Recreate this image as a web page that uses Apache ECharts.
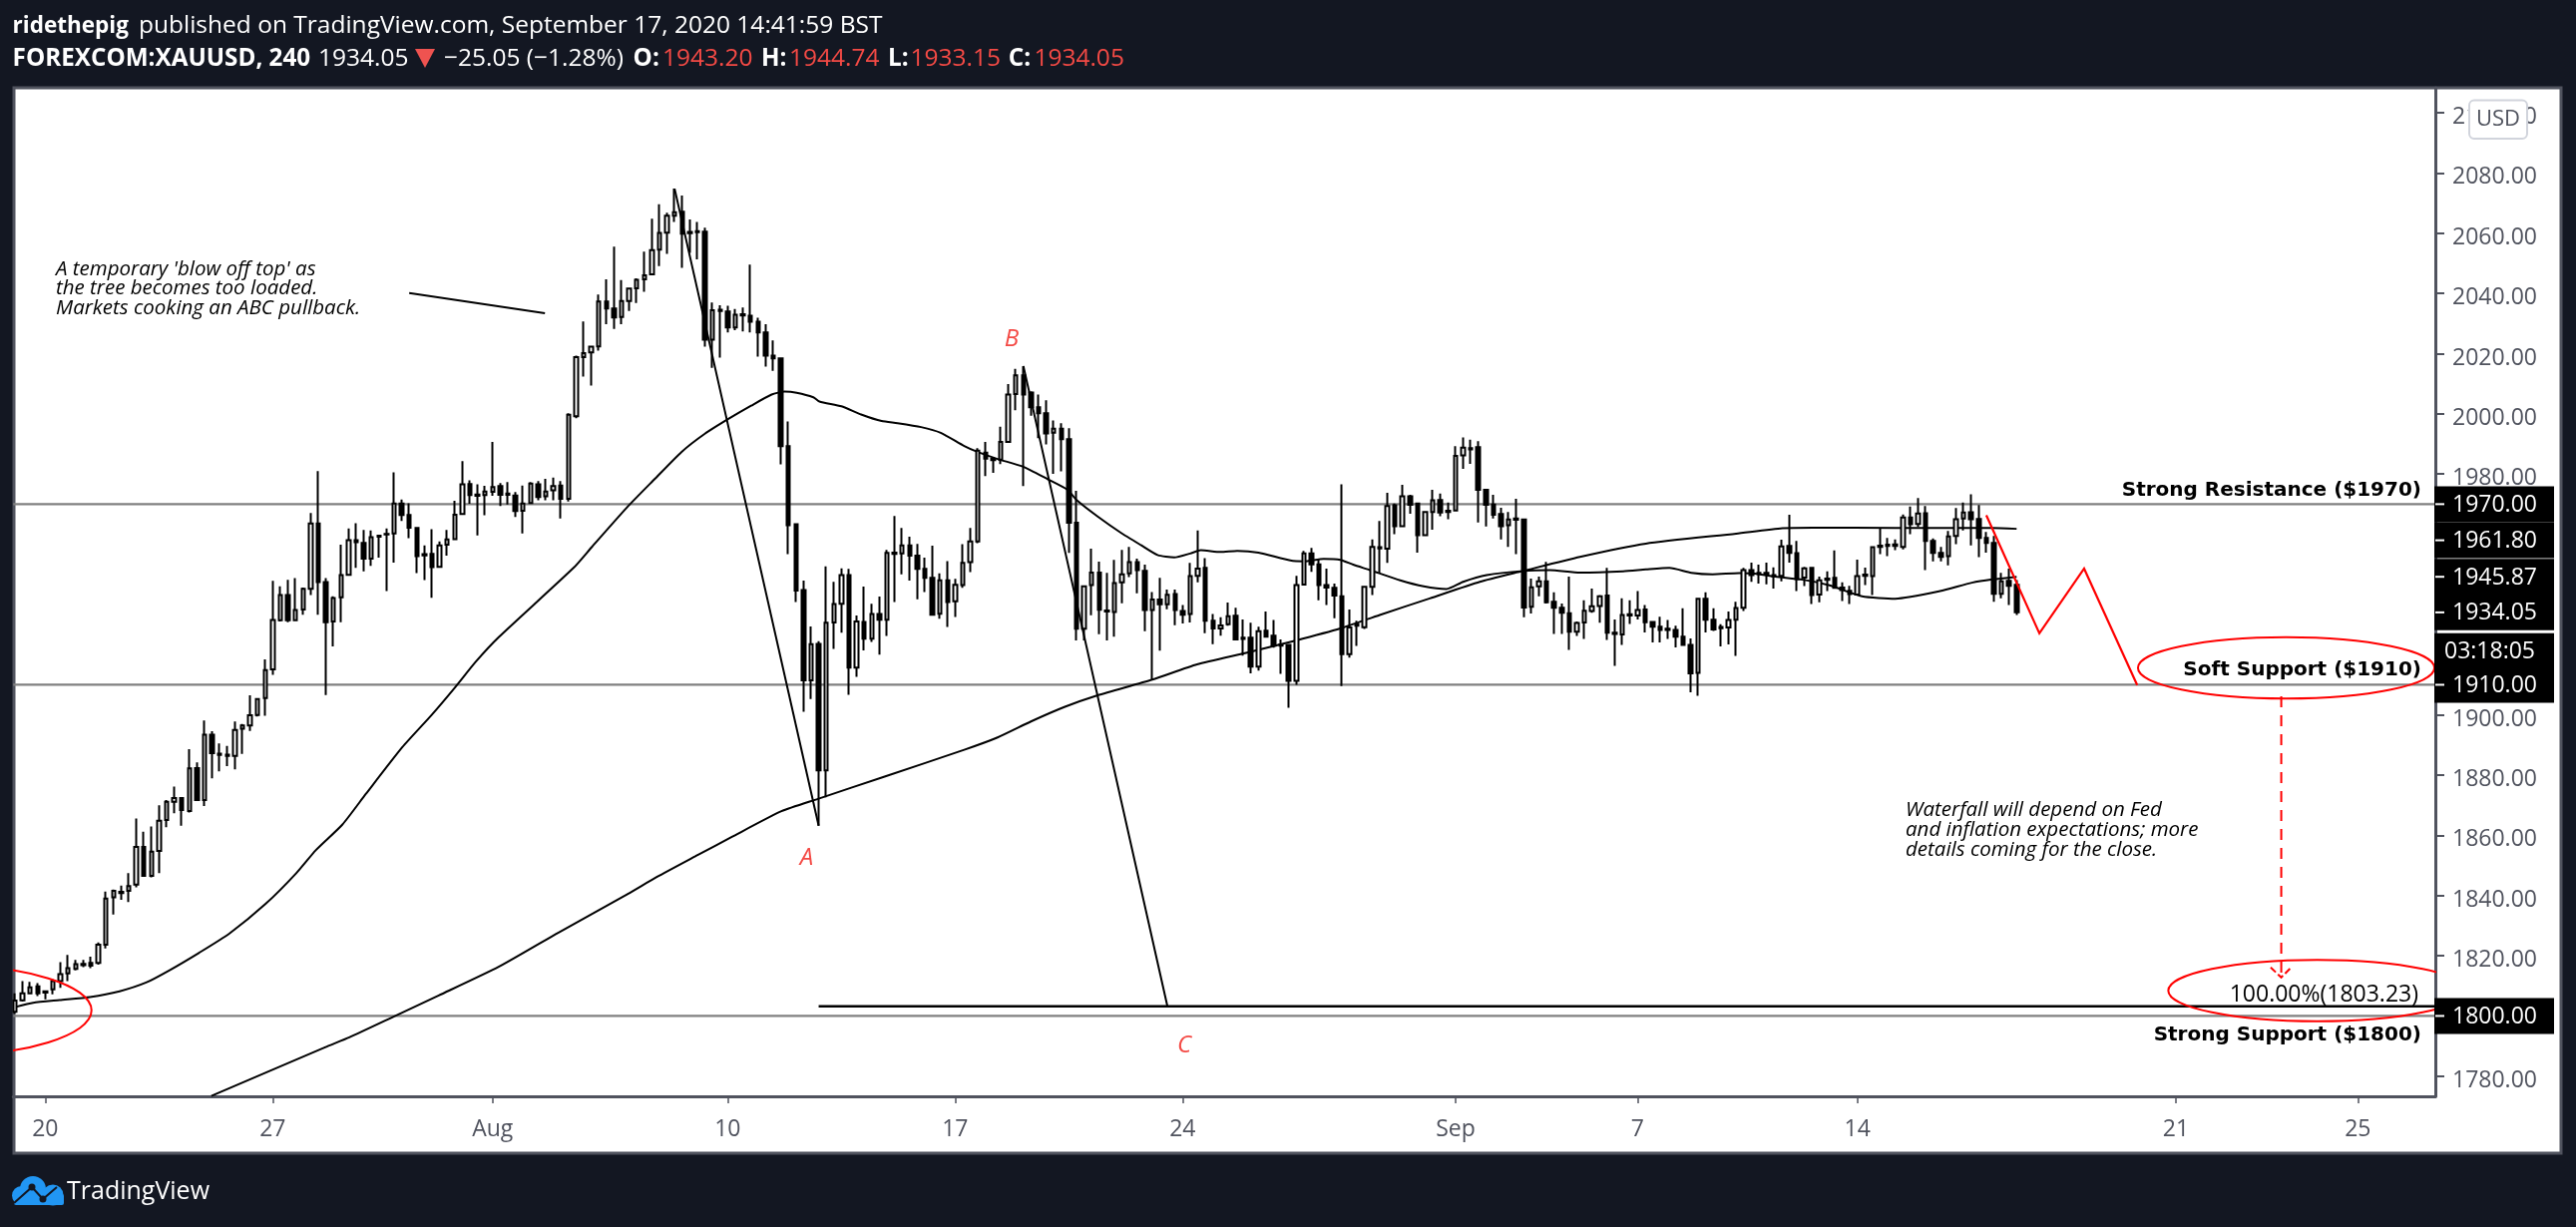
<!DOCTYPE html>
<html><head><meta charset="utf-8">
<style>html,body{margin:0;padding:0;background:#131722}#c{width:2582px;height:1230px}</style>
<script src="https://cdn.jsdelivr.net/npm/echarts@6/dist/echarts.min.js"></script>
</head><body><div id="c"></div>
<script>
const opens=[1801.4,1805.2,1807.5,1809.8,1808.2,1808.8,1811.6,1814.1,1815.6,1816.9,
1817.6,1817.6,1823.7,1839.4,1840.8,1841.6,1843.6,1856.1,1846.5,1854.8,
1865.1,1871.1,1872.4,1868.1,1882.3,1871.7,1893.4,1887.1,1886.8,1886.4,
1895.4,1896.5,1900.0,1905.6,1915.1,1931.4,1939.8,1931.4,1935.0,1941.9,
1963.6,1944.1,1931.0,1939.1,1946.5,1958.0,1957.1,1951.9,1959.5,1959.9,
1960.3,1970.2,1966.4,1962.1,1953.4,1953.5,1949.2,1956.5,1958.4,1966.7,
1976.7,1973.2,1973.0,1974.1,1976.0,1973.5,1972.9,1967.8,1970.4,1976.6,
1972.6,1974.6,1976.2,1971.8,1999.2,2018.8,2020.4,2022.4,2037.3,2035.0,
2032.2,2037.5,2041.7,2044.7,2046.3,2054.5,2060.2,2065.8,2067.1,2060.4,
2060.7,2060.5,2024.6,2034.6,2034.0,2028.7,2033.1,2032.6,2030.6,2027.0,
2019.3,2018.4,1989.3,1963.3,1941.5,1911.5,1923.6,1881.6,1930.7,1936.9,
1946.4,1915.7,1930.9,1925.3,1933.5,1931.6,1953.9,1953.6,1956.3,1952.9,
1948.5,1945.5,1933.6,1944.7,1937.7,1943.1,1950.7,1957.6,1987.1,1985.0,
1984.8,1990.7,2006.6,2012.8,2007.1,2002.2,2000.2,1993.7,1995.1,1991.6,
1963.8,1928.6,1943.1,1947.3,1934.7,1934.2,1944.0,1947.0,1950.7,1947.8,
1934.8,1938.3,1936.7,1940.1,1934.5,1933.5,1946.2,1948.8,1931.3,1928.7,
1930.1,1932.9,1925.6,1925.6,1916.0,1928.0,1926.3,1923.4,1923.2,1911.3,
1943.3,1953.6,1950.0,1943.1,1942.2,1939.4,1920.2,1930.0,1929.1,1942.5,
1955.7,1955.2,1969.6,1962.7,1972.6,1970.2,1959.7,1967.4,1971.4,1967.8,
1967.9,1986.2,1988.6,1988.9,1974.8,1969.9,1966.7,1963.0,1965.2,1964.9,
1935.9,1942.7,1944.4,1937.6,1935.6,1933.8,1927.6,1930.7,1934.5,1936.2,
1939.6,1927.3,1926.7,1933.4,1933.0,1935.0,1930.9,1929.3,1928.6,1928.2,
1926.0,1923.2,1914.0,1938.6,1931.6,1929.2,1929.0,1931.6,1935.6,1948.1,
1947.2,1947.2,1946.4,1946.2,1956.1,1953.7,1945.6,1948.8,1940.0,1945.3,
1945.5,1942.3,1941.2,1940.0,1946.6,1946.1,1956.2,1956.5,1956.6,1955.8,
1965.6,1963.4,1967.0,1957.8,1953.8,1952.7,1959.4,1965.2,1967.3,1965.1,
1958.8,1957.1,1940.2,1944.5,1943.20];
const closes=[1805.1,1807.5,1809.5,1807.5,1807.8,1811.6,1813.9,1815.9,1817.2,1817.3,
1816.7,1823.7,1839.0,1841.6,1841.2,1843.1,1856.1,1846.5,1854.6,1864.8,
1871.1,1872.4,1868.4,1882.2,1871.7,1893.4,1887.3,1886.7,1886.4,1895.0,
1896.5,1899.9,1905.3,1914.9,1931.5,1939.8,1931.4,1934.8,1941.9,1963.6,
1944.1,1930.8,1938.8,1946.4,1958.0,1957.4,1951.9,1959.0,1959.2,1960.1,
1970.2,1966.4,1962.2,1952.7,1953.0,1949.1,1956.3,1958.3,1966.5,1976.6,
1973.0,1972.8,1974.2,1975.7,1973.1,1973.1,1967.7,1970.2,1976.8,1972.4,
1974.2,1976.0,1971.8,1999.7,2018.8,2020.2,2022.3,2037.3,2035.0,2032.0,
2037.5,2041.6,2044.5,2046.0,2054.4,2060.1,2065.8,2067.0,2059.8,2060.0,
2060.3,2024.6,2034.4,2034.2,2028.7,2032.9,2032.7,2030.6,2027.0,2019.3,
2018.4,1989.3,1963.0,1941.3,1911.5,1923.5,1881.6,1930.6,1936.8,1946.4,
1915.7,1931.0,1925.3,1933.5,1931.6,1953.8,1953.5,1956.3,1952.9,1948.5,
1945.5,1933.3,1944.7,1937.5,1943.2,1950.5,1957.6,1987.8,1985.1,1984.6,
1990.7,2006.4,2012.8,2006.4,2002.2,2000.2,1993.5,1995.1,1991.6,1963.8,
1928.6,1942.7,1947.3,1934.9,1934.3,1943.8,1946.7,1950.7,1948.1,1934.8,
1938.3,1936.7,1939.9,1934.8,1933.3,1946.1,1948.6,1931.3,1928.7,1929.7,
1932.8,1925.1,1925.2,1916.0,1927.8,1926.0,1923.0,1923.0,1911.3,1943.1,
1953.6,1950.0,1943.1,1942.3,1939.6,1920.2,1929.0,1929.6,1942.5,1955.8,
1955.3,1969.4,1962.7,1972.6,1969.8,1959.7,1967.4,1971.3,1967.2,1967.4,
1986.0,1988.8,1988.2,1974.8,1969.8,1966.5,1962.7,1964.9,1964.8,1935.7,
1942.4,1944.4,1937.4,1935.6,1933.9,1927.6,1930.5,1934.6,1936.1,1939.4,
1927.3,1926.9,1933.2,1933.0,1934.8,1930.8,1929.3,1928.2,1928.2,1926.0,
1923.2,1913.8,1938.6,1931.6,1928.4,1928.8,1931.5,1935.5,1948.1,1946.4,
1946.8,1946.8,1946.0,1956.0,1953.8,1945.1,1948.7,1939.8,1944.7,1944.9,
1942.2,1941.5,1940.1,1946.1,1946.2,1955.7,1955.8,1956.1,1956.1,1965.6,
1963.3,1966.9,1957.8,1953.8,1952.5,1959.3,1965.0,1967.2,1965.0,1958.8,
1957.1,1940.2,1944.4,1942.9,1934.05];
const lows=[1800.7,1804.8,1807.2,1806.6,1805.5,1807.2,1809.3,1811.6,1815.1,1816.2,
1815.9,1817.0,1822.4,1833.7,1838.6,1837.8,1842.7,1846.5,1846.0,1847.4,
1862.7,1867.3,1863.2,1867.6,1871.7,1869.7,1878.9,1881.2,1883.0,1881.9,
1887.0,1894.7,1899.5,1899.7,1913.3,1931.0,1930.8,1931.1,1933.3,1939.8,
1933.3,1906.6,1922.7,1930.8,1946.5,1948.8,1947.7,1949.5,1952.2,1941.1,
1950.6,1964.4,1958.7,1947.1,1944.8,1938.9,1949.1,1952.9,1958.0,1966.4,
1970.1,1959.6,1966.3,1972.8,1969.4,1969.9,1965.7,1960.3,1970.2,1971.3,
1971.3,1971.3,1965.2,1970.9,1998.5,2012.4,2009.4,2021.0,2029.8,2028.2,
2029.8,2034.2,2036.8,2040.5,2046.3,2049.1,2053.1,2063.7,2048.5,2053.5,
2051.3,2022.3,2015.3,2018.7,2027.0,2027.8,2027.4,2027.0,2019.0,2015.7,
2014.3,1983.2,1953.4,1937.5,1901.0,1905.3,1863.2,1872.6,1921.9,1927.3,
1906.7,1912.6,1921.4,1924.2,1920.0,1926.2,1937.5,1946.7,1944.6,1938.4,
1940.8,1933.1,1931.9,1929.2,1932.5,1942.2,1947.4,1957.0,1979.3,1980.4,
1983.3,1990.4,2001.2,1976.0,1999.4,1991.9,1989.8,1980.1,1980.9,1953.8,
1924.7,1924.7,1933.1,1926.8,1924.7,1926.0,1937.1,1945.8,1940.4,1927.8,
1911.5,1921.3,1935.1,1929.8,1930.4,1930.7,1944.0,1927.1,1923.5,1926.3,
1929.6,1924.7,1919.7,1913.8,1914.7,1925.8,1922.3,1913.6,1902.4,1910.0,
1943.3,1947.5,1938.1,1936.5,1932.1,1909.6,1919.0,1922.9,1928.5,1939.8,
1947.3,1950.5,1960.0,1962.7,1966.8,1953.9,1959.4,1961.5,1966.0,1965.0,
1967.6,1981.7,1983.4,1963.9,1962.6,1965.2,1958.3,1955.8,1953.4,1932.4,
1933.7,1939.4,1937.0,1926.9,1926.9,1921.6,1926.2,1925.2,1933.9,1930.6,
1924.9,1916.3,1923.2,1930.2,1931.7,1927.4,1924.1,1924.1,1925.2,1922.4,
1922.9,1907.5,1906.3,1927.4,1927.9,1922.7,1923.4,1919.6,1934.5,1944.2,
1943.6,1943.4,1942.0,1944.4,1950.6,1941.1,1942.8,1936.8,1937.4,1941.1,
1942.0,1937.8,1936.8,1939.8,1943.1,1939.8,1953.4,1952.7,1954.7,1955.0,
1960.0,1962.4,1948.1,1951.0,1951.0,1949.7,1956.7,1961.3,1956.3,1952.4,
1953.9,1937.6,1938.7,1936.5,1933.15];
const highs=[1807.5,1811.6,1811.3,1810.9,1808.2,1812.2,1817.9,1820.3,1818.6,1818.6,
1819.7,1824.4,1841.3,1842.0,1843.3,1847.4,1865.6,1861.2,1862.9,1870.0,
1871.7,1876.2,1872.7,1888.6,1884.2,1898.1,1894.6,1890.5,1889.7,1897.8,
1897.0,1906.5,1905.3,1918.4,1944.5,1942.7,1944.9,1945.4,1942.3,1967.1,
1981.0,1945.4,1939.4,1956.5,1961.9,1963.7,1961.4,1961.3,1959.6,1961.9,
1980.6,1971.5,1970.3,1962.1,1956.3,1961.7,1957.6,1961.4,1971.1,1984.3,
1977.9,1976.6,1976.1,1990.7,1977.0,1977.3,1974.0,1976.2,1977.3,1977.7,
1978.4,1978.8,1977.7,2000.2,2019.3,2030.7,2022.3,2039.6,2044.7,2055.5,
2044.4,2041.9,2045.0,2053.9,2064.8,2069.6,2066.8,2074.8,2072.5,2064.6,
2063.7,2061.8,2037.0,2036.1,2035.9,2034.8,2035.3,2049.6,2031.9,2029.8,
2024.4,2018.4,1997.5,1963.5,1944.6,1929.4,1924.5,1949.3,1944.2,1948.7,
1948.5,1933.0,1942.6,1936.9,1939.3,1954.8,1966.1,1962.1,1959.2,1956.8,
1952.2,1956.2,1947.0,1951.1,1945.2,1956.7,1962.1,1988.6,1990.7,1985.4,
1995.7,2009.9,2014.9,2015.8,2007.5,2006.4,2004.5,1997.8,1996.9,1995.2,
1974.4,1942.7,1955.2,1950.9,1947.2,1951.5,1954.8,1955.8,1951.9,1949.9,
1940.8,1945.5,1941.6,1941.6,1936.5,1950.5,1961.3,1952.1,1933.5,1932.4,
1937.3,1935.6,1931.7,1930.6,1929.3,1934.3,1931.5,1925.1,1923.2,1946.2,
1954.5,1955.5,1951.7,1948.6,1943.6,1976.6,1935.0,1931.3,1942.8,1958.3,
1964.4,1973.8,1970.2,1976.4,1973.1,1970.5,1967.6,1974.8,1973.5,1970.5,
1989.3,1992.2,1991.4,1990.9,1974.8,1973.1,1968.8,1967.4,1971.8,1965.2,
1945.3,1945.9,1950.8,1940.7,1937.0,1945.9,1931.0,1938.1,1942.0,1939.8,
1948.8,1931.7,1938.7,1938.1,1941.1,1936.5,1930.9,1932.6,1931.5,1929.6,
1935.4,1925.4,1938.9,1940.7,1935.4,1930.1,1934.3,1937.6,1948.8,1950.6,
1949.9,1950.6,1949.0,1958.2,1966.5,1957.8,1949.2,1949.2,1945.9,1947.7,
1954.6,1944.0,1942.9,1951.6,1948.9,1955.8,1962.1,1958.8,1958.3,1966.6,
1969.2,1972.0,1969.4,1958.6,1955.8,1961.1,1968.7,1970.5,1973.3,1969.7,
1960.8,1959.4,1947.2,1948.6,1944.74];

const fastMaBars=[0.1,2.4,5.9,9.9,13.8,17.3,20.4,24.3,28.3,33.1,37.1,39.7,43.2,46.3,51.1,55.0,58.1,60.8,63.8,
73.7,76.1,80.9,84.4,87.9,91.0,94.1,97.1,99.8,101.5,103.1,105.3,106.1,109.0,111.6,114.3,116.4,119.5,122.1,125.2,127.0,
129.6,132.9,136.2,138.8,140.1,142.8,145.8,148.5,150.7,152.9,155.0,156.4,159.0,161.2,164.0,168.2,170.0,172.6,174.8,176.5,178.7,
182.7,185.8,188.8,191.0,194.1,198.9,202.4,206.4,212.1,215.1,218.2,221.1,223.9,227.4,229.2,232.2,235.8,239.2,243.6,248.0,253.9,258.1,260.8,264];
const fastMaValues=[1803.0,1804.4,1805.3,1806.3,1808.2,1811.1,1815.2,1821.0,1827.4,1837.3,1847.4,1855.1,1863.6,1873.8,1889.3,1900.1,1909.3,1917.7,1925.8,
1948.9,1955.8,1969.4,1978.4,1987.3,1993.4,1998.3,2002.7,2006.4,2007.4,2007.0,2005.5,2004.1,2002.5,1999.8,1997.6,1996.9,1995.6,1993.7,1989.3,1987.3,
1985.0,1982.5,1978.3,1974.8,1971.2,1965.9,1960.6,1956.4,1953.1,1952.3,1953.6,1954.7,1954.1,1954.5,1953.9,1951.3,1951.0,1951.8,1951.5,1949.9,1948.1,
1944.7,1942.7,1941.8,1944.2,1946.4,1947.8,1948.1,1947.3,1947.7,1948.3,1948.8,1947.2,1946.7,1947.1,1947.0,1945.9,1944.9,1943.1,1939.4,1938.6,1941.1,1943.9,1945.0,1945.87];
const slowMaBars=[25.9,40.9,44.1,50.3,55.9,63.8,71.7,80.9,84.7,90.1,94.5,101.1,105.9,114.7,125.2,129.6,134.0,138.4,142.8,150.0,155.9,162.5,168.6,174.8,180.0,186.6,193.2,198.9,206.4,215.1,227.0,233.1,237.1,248.0,256.8,260.8,264];
const slowMaValues=[1773.4,1789.6,1792.9,1800.2,1806.8,1816.3,1827.7,1840.6,1846.2,1853.5,1859.4,1868.0,1872.1,1879.5,1888.4,1892.5,1897.8,1902.6,1906.5,1911.7,1916.8,1920.7,1924.5,1928.7,1933.2,1938.7,1944.2,1947.8,1952.5,1956.9,1960.2,1962.0,1962.2,1962.1,1962.1,1962.1,1961.8];

const levelPrices=[1970,1910,1800];
const waveABars=[87,106];
const waveAPrices=[2074.8,1863.2];
const waveCBars=[133,152];
const waveCPrices=[2015.9,1803.23];
const fibBars=[106,319.22];
const fibPrices=[1803.23,1803.23];
const noteLineBars=[52.0,69.9];
const noteLinePrices=[2040.1,2033.4];
const projectionBars=[260.0,267.0,272.9,279.9];
const projectionPrices=[1966.3,1927.1,1948.6,1909.9];
const arrowBars=[298.9,298.9];
const arrowPrices=[1906.2,1812.8];
const arrowHeadBars=[297.5,298.9,300.2];
const arrowHeadPrices=[1816.1,1812.8,1816.1];
const ellipseBarFrom=[280.0,284.0,-28.9];
const ellipseBarTo=[319.1,323.3,10.1];
const ellipsePriceTop=[1925.8,1818.6,1816.9];
const ellipsePriceBottom=[1905.4,1798.2,1786.8];

const yTickValues=[1780,1800,1820,1840,1860,1880,1900,1920,1940,1960,1980,2000,2020,2040,2060,2080,2100];
const xTickBars=[4,34,63,94,124,154,190,214,243,285,309];
const xTickLabels=['20','27','Aug','10','17','24','Sep','7','14','21','25'];
const tagPrices=[1970,1958,1945.87,1934.05,1921.2,1910,1800];
const tagTexts=['1970.00','1961.80','1945.87','1934.05','03:18:05','1910.00','1800.00'];

const FONT='"Open Sans"';
const AXIS='#50535e', RED='#ff0000', TXTRED='#f44a45', GREY='#808080';
const xMin=-0.22, xMax=319.22, yMin=1773.3, yMax=2108.3;

const pairs=(a,b)=>a.map((v,i)=>[v,b[i]]);
const lineSeries=(name,xs,ys,color,width,z,type,smooth)=>({type:'line',name,data:pairs(xs,ys),showSymbol:false,symbol:'none',silent:true,z,
  smooth:smooth||false,lineStyle:{color,width,type:type||'solid',cap:'butt',join:'miter'},animation:false});

function txt(text,x,y,font,fill,align,z){
  return {type:'text',x:0,y:0,z:z||50,silent:true,style:{text,x,y:y+1.5,font,fill,align:align||'left',verticalAlign:'middle'}};
}
const HB='bold 24.25px '+FONT, HN='24.5px '+FONT;
const IT='italic 20.5px '+FONT;
const BD='bold 20px "DejaVu Sans"';
const graphicEls=[
  {type:'rect',z:-100,silent:true,shape:{x:14,y:88,width:2553,height:1068},style:{fill:'#fff',stroke:AXIS,lineWidth:3}},
  txt('ridethepig',12.6,25,'bold 22.5px '+FONT,'#fff'),
  txt('published on TradingView.com, September 17, 2020 14:41:59 BST',139,25,HN,'#fff'),
  txt('FOREXCOM:XAUUSD, 240',12.6,58,HB,'#fff'),
  txt('1934.05',319,58,HN,'#fff'),
  {type:'polygon',silent:true,z:50,shape:{points:[[416,49],[436,49],[426,68]]},style:{fill:'#ef5350'}},
  txt('\u221225.05 (\u22121.28%)',445,58,HN,'#fff'),
  txt('O:',634.6,58,HB,'#fff'),txt('1943.20',664,58,HN,TXTRED),
  txt('H:',763,58,HB,'#fff'),txt('1944.74',791,58,HN,TXTRED),
  txt('L:',890,58,HB,'#fff'),txt('1933.15',912.5,58,HN,TXTRED),
  txt('C:',1010.7,58,HB,'#fff'),txt('1934.05',1036.4,58,HN,TXTRED),
  txt("A temporary 'blow off top' as",56,269,IT,'#000'),
  txt('the tree becomes too loaded.',56,288,IT,'#000'),
  txt('Markets cooking an ABC pullback.',56,308,IT,'#000'),
  txt('Waterfall will depend on Fed',1910,811,IT,'#000'),
  txt('and inflation expectations; more',1910,831,IT,'#000'),
  txt('details coming for the close.',1910,851,IT,'#000'),
  txt('A',808.5,859,'italic 24px '+FONT,TXTRED,'center'),
  txt('B',1014,339,'italic 24px '+FONT,TXTRED,'center'),
  txt('C',1187,1047,'italic 24px '+FONT,TXTRED,'center'),
  txt('Strong Resistance ($1970)',2427,490,BD,'#000','right'),
  txt('Soft Support ($1910)',2427,670.6,BD,'#000','right'),
  txt('Strong Support ($1800)',2427,1036,BD,'#000','right'),
  txt('100.00%(1803.23)',2424,996,'23px '+FONT,'#000','right'),
  {type:'rect',z:60,silent:true,shape:{x:2475,y:100.5,width:58,height:38.5,r:5},style:{fill:'#fff',stroke:'#d1d4dc',lineWidth:2}},
  txt('USD',2504,118,'22px '+FONT,AXIS,'center',61),
  {type:'circle',silent:true,z:50,shape:{cx:33,cy:1192,r:13},style:{fill:'#2196f3'}},
  {type:'circle',silent:true,z:50,shape:{cx:21.5,cy:1198.5,r:9.5},style:{fill:'#2196f3'}},
  {type:'circle',silent:true,z:50,shape:{cx:53,cy:1198,r:10.5},style:{fill:'#2196f3'}},
  {type:'rect',silent:true,z:50,shape:{x:14,y:1197,width:50,height:11,r:2},style:{fill:'#2196f3'}},
  {type:'polyline',silent:true,z:51,shape:{points:[[14,1206],[32,1190],[43,1202],[57,1190]]},style:{stroke:'#131722',lineWidth:2,fill:'none'}},
  {type:'circle',silent:true,z:51,shape:{cx:32,cy:1190,r:3.5},style:{fill:'#131722'}},
  {type:'circle',silent:true,z:51,shape:{cx:43,cy:1202,r:3.5},style:{fill:'#131722'}},
  txt('TradingView',67,1193,'25px '+FONT,'#fff')
];

const chart=echarts.init(document.getElementById('c'),null,{renderer:'canvas',width:2582,height:1230});
chart.setOption({
  animation:false,
  backgroundColor:'#131722',
  grid:{left:13.3,top:88,width:2427.7,height:1011,containLabel:false},
  xAxis:{type:'value',min:xMin,max:xMax,splitLine:{show:false},
    axisLine:{show:true,onZero:false,lineStyle:{color:AXIS,width:3}},
    axisTick:{show:true,length:7,lineStyle:{color:AXIS,width:1.5},customValues:xTickBars},
    axisLabel:{show:true,margin:22,color:AXIS,fontFamily:FONT,fontSize:23,customValues:xTickBars,
      formatter:v=>xTickLabels[xTickBars.indexOf(v)]}},
  yAxis:{type:'value',position:'right',min:yMin,max:yMax,scale:true,splitLine:{show:false},
    axisLine:{show:true,onZero:false,lineStyle:{color:AXIS,width:3}},
    axisTick:{show:true,length:9,lineStyle:{color:AXIS,width:2},customValues:yTickValues},
    axisLabel:{show:true,margin:17,color:AXIS,fontFamily:FONT,fontSize:23,verticalAlign:'top',lineHeight:9,customValues:yTickValues,
      formatter:v=>v.toFixed(2)}},
  graphic:{elements:graphicEls},
  series:[
    ...levelPrices.map((p,i)=>lineSeries('level'+i,[xMin,xMax],[p,p],GREY,2.2,1)),
    lineSeries('Fast MA',fastMaBars,fastMaValues,'#000',2,3,'solid',0.2),
    lineSeries('Slow MA',slowMaBars,slowMaValues,'#000',2,3,'solid',0.2),
    {type:'candlestick',name:'XAUUSD',z:4,barWidth:4,silent:true,animation:false,
      encode:{x:0,y:[1,2,3,4]},
      itemStyle:{color:'#ffffff',color0:'#000000',borderColor:'#000000',borderColor0:'#000000',borderWidth:2},
      data:opens.map((o,i)=>[i,o,closes[i],lows[i],highs[i]])},
    lineSeries('Wave A',waveABars,waveAPrices,'#000',2,5),
    lineSeries('Wave C',waveCBars,waveCPrices,'#000',2,5),
    lineSeries('Fib 100%',fibBars,fibPrices,'#000',2.5,5),
    lineSeries('Note pointer',noteLineBars,noteLinePrices,'#000',2,5),
    lineSeries('Projection',projectionBars,projectionPrices,RED,2.2,6),
    lineSeries('Arrow',arrowBars,arrowPrices,RED,2,6,[11,8]),
    lineSeries('Arrow head',arrowHeadBars,arrowHeadPrices,RED,2,6,[7,3]),
    {type:'custom',name:'Ellipses',z:6,silent:true,clip:true,animation:false,
      data:ellipseBarFrom.map((b,i)=>[b,ellipsePriceTop[i],ellipseBarTo[i],ellipsePriceBottom[i]]),
      encode:{x:[0,2],y:[1,3]},
      renderItem(params,api){
        const a=api.coord([api.value(0),api.value(1)]), b=api.coord([api.value(2),api.value(3)]);
        return {type:'ellipse',shape:{cx:(a[0]+b[0])/2,cy:(a[1]+b[1])/2,rx:Math.abs(b[0]-a[0])/2,ry:Math.abs(b[1]-a[1])/2},
          style:{fill:'none',stroke:RED,lineWidth:2}};
      }},
    {type:'custom',name:'Price tags',z:20,silent:true,clip:false,animation:false,
      data:tagPrices.map(p=>[xMax,p]),encode:{x:0,y:1},
      renderItem(params,api){
        const c=api.coord([api.value(0),api.value(1)]), t=tagTexts[params.dataIndex], clock=t.includes(':');
        const kids=[{type:'rect',shape:{x:c[0]-1,y:c[1]-18,width:120,height:36},style:{fill:'#000'}}];
        if(!clock) kids.push({type:'rect',shape:{x:c[0],y:c[1]-1,width:9,height:2},style:{fill:'#fff'}});
        kids.push({type:'text',style:{text:t,x:clock?c[0]+9:c[0]+17,y:c[1]+1,fill:'#fff',font:'23px '+FONT,align:'left',verticalAlign:'middle'}});
        return {type:'group',children:kids};
      }}
  ]
});
</script></body></html>
